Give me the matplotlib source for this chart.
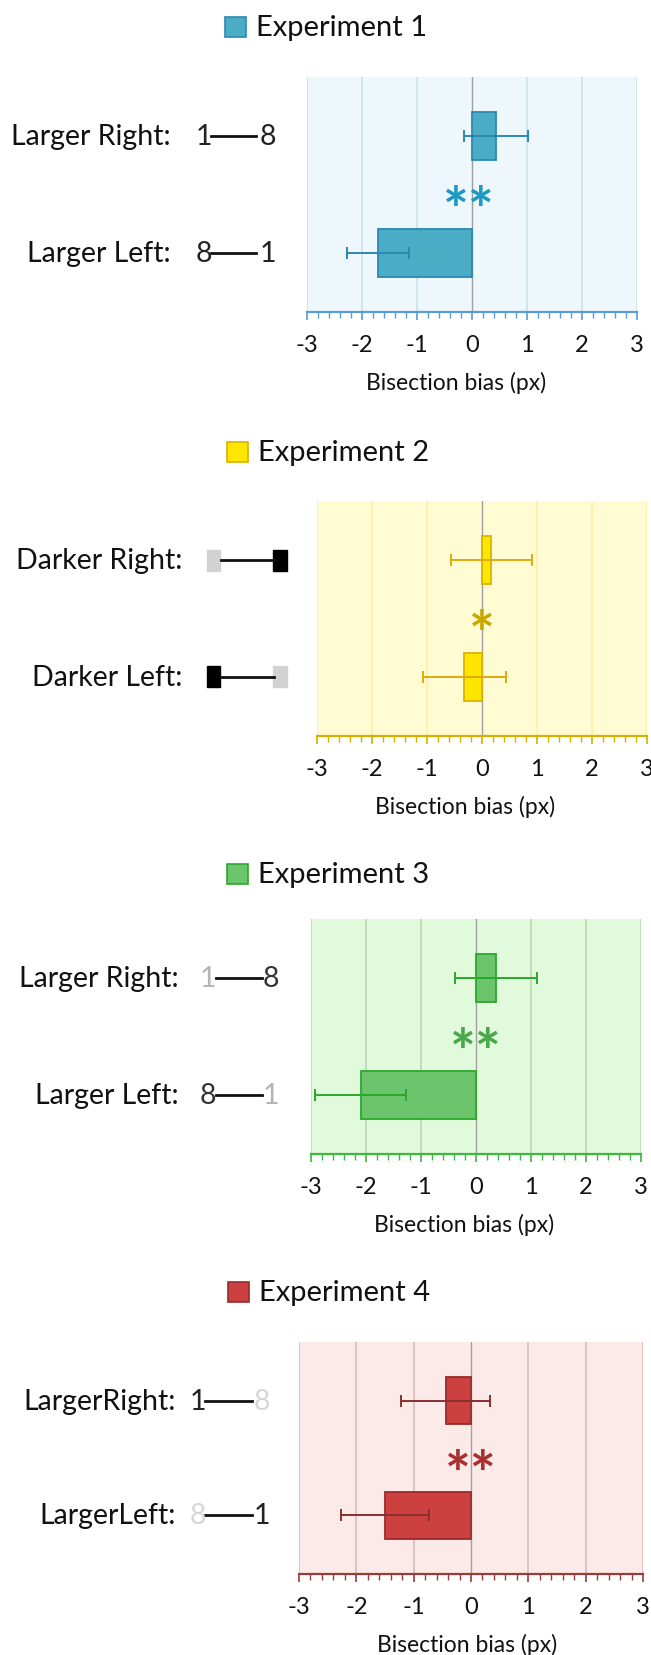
import matplotlib
matplotlib.use('Agg')
import matplotlib.pyplot as plt
import matplotlib.transforms as mtransforms
from matplotlib.patches import Rectangle
from matplotlib.lines import Line2D
from matplotlib.ticker import MultipleLocator

plt.rcParams['font.family'] = ['Lato', 'DejaVu Sans']

# data
titles = ['Experiment 1', 'Experiment 2', 'Experiment 3', 'Experiment 4']
row_labels = [['Larger Right:', 'Larger Left:'],
              ['Darker Right:', 'Darker Left:'],
              ['Larger Right:', 'Larger Left:'],
              ['LargerRight:', 'LargerLeft:']]
means = [[0.44, -1.71], [0.17, -0.32], [0.36, -2.10], [-0.44, -1.50]]
errs = [[0.58, 0.56], [0.74, 0.75], [0.74, 0.82], [0.78, 0.77]]
stars = ['**', '*', '**', '**']
star_x = [-0.05, 0.0, 0.0, 0.0]
end_marks = [[('1', '8'), ('8', '1')], None, [('1', '8'), ('8', '1')], [('1', '8'), ('8', '1')]]
xticks = [-3, -2, -1, 0, 1, 2, 3]

# styling
DARK = '#222222'
end_colors = [[(DARK, DARK), (DARK, DARK)],
              [('#d2d2d2', '#000000'), ('#000000', '#d2d2d2')],
              [('#b4b4b4', '#333333'), ('#333333', '#b4b4b4')],
              [(DARK, '#d6d6d6'), ('#d6d6d6', DARK)]]
fills = ['#4bacc6', '#ffe600', '#6cc46c', '#cc4040']
edges = ['#2b88b3', '#d9b200', '#2aa82a', '#9a2a2a']
errc = ['#2b88b3', '#e0aa10', '#2aa82a', '#8a2e2e']
starc = ['#1e9ac2', '#c9a800', '#4aa84a', '#a83030']
bgs = ['#eef7fb', '#fffbd2', '#e2fadc', '#fceae8']
grids = ['#c6e2ef', '#fff1a0', '#b9d8b2', '#dcb8b8']
axc = ['#5a9bd0', '#d4b000', '#3cb83c', '#9c3a3a']

W, H = 651, 1656
boxes = [(307, 78, 637, 313), (317, 502, 647, 737), (311, 920, 641, 1155), (299, 1343, 643, 1575)]
xlabel_x = [456, 465, 464, 467]
title_y = [28, 453, 875, 1293]
title_sq = [225, 227, 227, 228]
# label right edge, first mark centre, line start, line end, second mark centre
lab_x = [(171, 204, 211, 256, 268), (182, 213, 221, 274, 280),
         (179, 208, 216, 262, 271), (176, 198, 205, 252, 262)]

fig = plt.figure(figsize=(W / 100, H / 100), dpi=100)

for i in range(4):
    l, t, r, b = boxes[i]
    ax = fig.add_axes([l / W, 1 - b / H, (r - l) / W, (b - t) / H])
    ax.set_facecolor(bgs[i])
    ys = [1, 0]
    ax.barh(ys, means[i], height=0.41, color=fills[i], edgecolor=edges[i], linewidth=1.3, zorder=3)
    ax.errorbar(means[i], ys, xerr=errs[i], fmt='none', ecolor=errc[i], elinewidth=1.4,
                capsize=4, capthick=1.4, zorder=4)
    ax.axvline(0, color='#a0a0a0', lw=1, zorder=2)
    for x in xticks:
        if x != 0:
            ax.axvline(x, color=grids[i], lw=1.2, zorder=1)
    ax.set_xlim(-3, 3)
    ax.set_ylim(-0.51, 1.51)
    ax.set_yticks([])
    for s in ['top', 'left', 'right']:
        ax.spines[s].set_visible(False)
    ax.spines['bottom'].set_color(axc[i])
    ax.spines['bottom'].set_linewidth(1.6)
    ax.set_xticks(xticks)
    ax.set_xticklabels([str(x) for x in xticks])
    ax.xaxis.set_minor_locator(MultipleLocator(0.2))
    ax.tick_params(axis='x', which='major', length=6, width=1.2, color=axc[i], pad=10,
                   labelsize=17, labelcolor='#111111')
    ax.tick_params(axis='x', which='minor', length=4, width=1, color=axc[i])
    ax.set_xlabel('Bisection bias (px)', fontsize=16.5, color='#111111')
    ax.xaxis.set_label_coords((xlabel_x[i] - l) / (r - l), -70 / (b - t))
    ax.xaxis.label.set_verticalalignment('center')

    ax.text(star_x[i], 0.47, stars[i], ha='center', va='center', fontsize=44,
            fontweight='bold', color=starc[i], zorder=5,
            transform=ax.transData + mtransforms.ScaledTranslation(0, -11 / 72, fig.dpi_scale_trans))

    # row labels on the left
    trans = mtransforms.blended_transform_factory(fig.transFigure, ax.transData)
    lr, m1, ls, le, m2 = lab_x[i]
    for j, y in enumerate(ys):
        fig.text(lr / W, y, row_labels[i][j], ha='right', va='center', fontsize=20.5,
                 color='#111111', transform=trans)
        c1, c2 = end_colors[i][j]
        fig.add_artist(Line2D([ls / W, le / W], [y, y], color='#111111', lw=2, transform=trans))
        if end_marks[i] is None:
            fig.add_artist(Rectangle((207 / W, y - 0.09), 13 / W, 0.18, color=c1, transform=trans))
            fig.add_artist(Rectangle((273 / W, y - 0.09), 14 / W, 0.18, color=c2, transform=trans))
        else:
            a, z = end_marks[i][j]
            fig.text(m1 / W, y, a, ha='center', va='center', fontsize=20.5, color=c1, transform=trans)
            fig.text(m2 / W, y, z, ha='center', va='center', fontsize=20.5, color=c2, transform=trans)

    # legend-style title
    sq = title_sq[i]
    fig.add_artist(Rectangle((sq / W, 1 - (title_y[i] + 10) / H), 21 / W, 20 / H,
                             facecolor=fills[i], edgecolor=edges[i], lw=1.2,
                             transform=fig.transFigure))
    fig.text((sq + 31) / W, 1 - title_y[i] / H, titles[i], ha='left', va='center',
             fontsize=21, color='#111111')

fig.savefig('out.png', dpi=100, facecolor='white')
